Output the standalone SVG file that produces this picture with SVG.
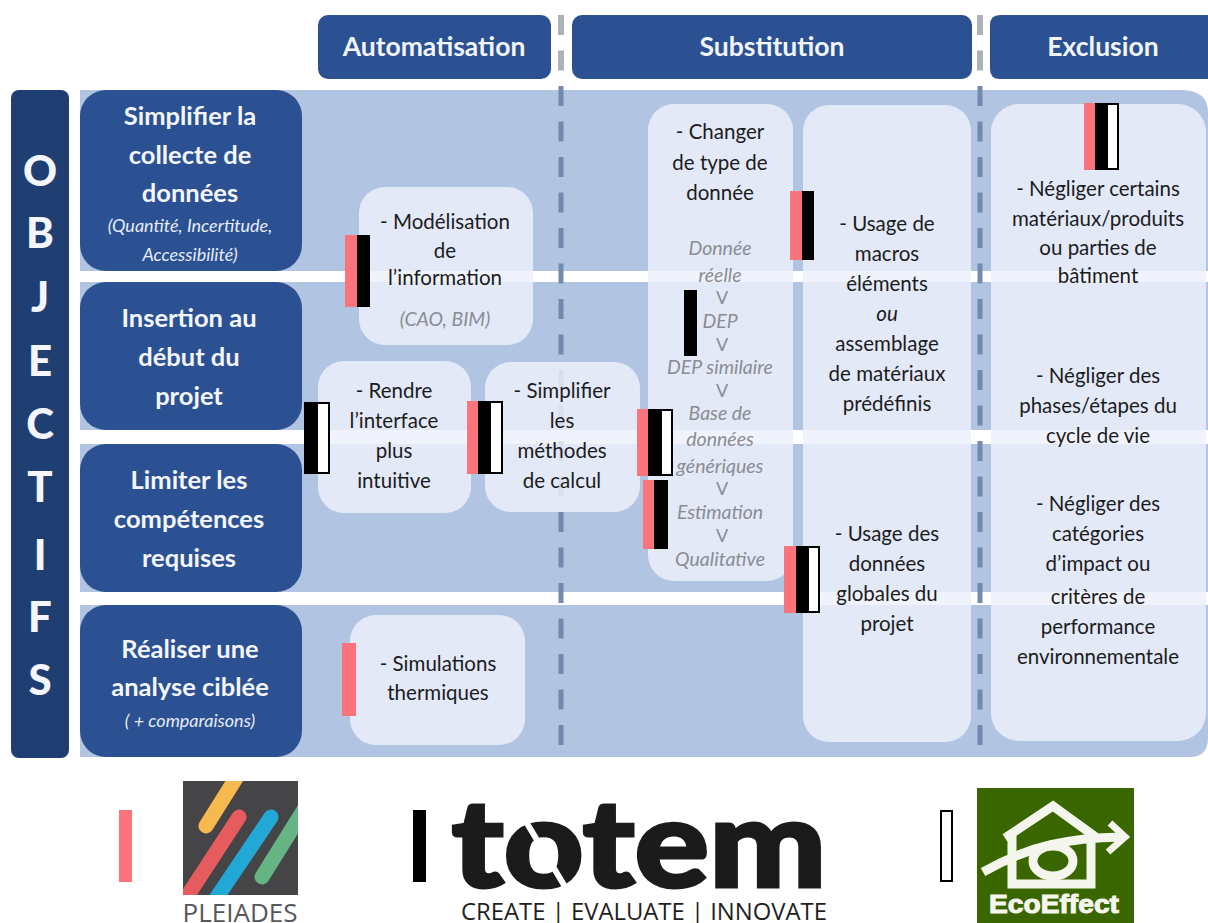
<svg xmlns="http://www.w3.org/2000/svg" width="1208" height="923" viewBox="0 0 1208 923">
<style>
text{font-family:Lato,"Open Sans","Liberation Sans",sans-serif;text-anchor:middle}
.hd{fill:#2b5192}
.hdt{font-size:26.5px;font-weight:700;fill:#f2f5fa}
.ob{font-size:25.5px;font-weight:700;fill:#f4f6fb}
.sub{font-size:18px;font-style:italic;fill:#e6ebf5}
.let{font-size:42px;font-weight:900;fill:#f4f6fb}
.bx{fill:#edf0fa;fill-opacity:.83}
.t{font-size:20.5px;fill:#1c1c1e}
.i{font-size:19.5px;font-style:italic;fill:#8b8c94}
.v{font-size:18px;fill:#8b8c94}
.r{fill:#fb747b}.k{fill:#000}.w{fill:#fff;stroke:#000;stroke-width:2}
.dh{stroke:#adb2b9;stroke-width:6;stroke-dasharray:20 15.5;fill:none}
.db{stroke:#7389ad;stroke-width:5;stroke-dasharray:20 15.5;fill:none}
</style>
<rect width="1208" height="923" fill="#fff"/>
<g id="bands" fill="#b1c5e3">
<path d="M80 90H1180Q1208 90 1208 112V271H80Z"/>
<rect x="80" y="282" width="1128" height="148"/>
<rect x="80" y="444" width="1128" height="148"/>
<path d="M80 605H1208V738Q1208 757 1190 757H80Z"/>
</g>
<g id="dividers">
<path class="dh" d="M561 15V71"/><path class="dh" d="M980 15V71"/>
<path class="db" d="M561 86V757"/><path class="db" d="M980 86V757"/>
</g>
<g id="col-automatisation"><rect class="hd" x="318" y="15" width="233" height="64" rx="10"/><text class="hdt" x="434" y="56">Automatisation</text></g>
<g id="col-substitution"><rect class="hd" x="572" y="15" width="400" height="64" rx="10"/><text class="hdt" x="772" y="56">Substitution</text></g>
<g id="col-exclusion"><path class="hd" d="M1208 15H1000Q990 15 990 25V69Q990 79 1000 79H1208Z"/><text class="hdt" x="1103" y="56">Exclusion</text></g>
<g id="objectifs"><rect x="11" y="90" width="58" height="668" rx="8" fill="#1f3f73"/>
<text class="let" x="40" y="186">O</text><text class="let" x="40" y="248">B</text><text class="let" x="40" y="312">J</text><text class="let" x="40" y="376">E</text><text class="let" x="40" y="439">C</text><text class="let" x="40" y="502">T</text><text class="let" x="40" y="570">I</text><text class="let" x="40" y="632">F</text><text class="let" x="40" y="695">S</text></g>
<g id="obj-simplifier"><rect class="hd" x="80" y="90" width="222" height="181" rx="26"/>
<text class="ob" x="190" y="125">Simplifier la</text><text class="ob" x="190" y="164">collecte de</text><text class="ob" x="190" y="202">données</text>
<text class="sub" x="190" y="232">(Quantité, Incertitude,</text><text class="sub" x="190" y="261">Accessibilité)</text></g>
<g id="obj-insertion"><rect class="hd" x="80" y="282" width="222" height="148" rx="26"/>
<text class="ob" x="189" y="327">Insertion au</text><text class="ob" x="189" y="366">début du</text><text class="ob" x="189" y="405">projet</text></g>
<g id="obj-limiter"><rect class="hd" x="80" y="444" width="222" height="148" rx="26"/>
<text class="ob" x="189" y="489">Limiter les</text><text class="ob" x="189" y="528">compétences</text><text class="ob" x="189" y="567">requises</text></g>
<g id="obj-realiser"><rect class="hd" x="80" y="605" width="222" height="152" rx="26"/>
<text class="ob" x="190" y="658">Réaliser une</text><text class="ob" x="190" y="696">analyse ciblée</text>
<text class="sub" x="190" y="727">( + comparaisons)</text></g>
<g id="box-modelisation"><rect class="bx" x="359" y="187" width="174" height="158" rx="26"/>
<text class="t" x="445" y="229">- Modélisation</text><text class="t" x="445" y="258">de</text><text class="t" x="445" y="285">l’information</text><text class="i" x="445" y="326">(CAO, BIM)</text></g>
<g id="box-interface"><rect class="bx" x="318" y="361" width="153" height="152" rx="26"/>
<text class="t" x="394" y="398">- Rendre</text><text class="t" x="394" y="428">l’interface</text><text class="t" x="394" y="458">plus</text><text class="t" x="394" y="488">intuitive</text></g>
<g id="box-methodes"><rect class="bx" x="485" y="362" width="155" height="150" rx="26"/>
<text class="t" x="562" y="398">- Simplifier</text><text class="t" x="562" y="428">les</text><text class="t" x="562" y="458">méthodes</text><text class="t" x="562" y="488">de calcul</text></g>
<g id="box-type"><rect class="bx" x="648" y="104" width="145" height="477" rx="26"/>
<text class="t" x="720" y="139">- Changer</text><text class="t" x="720" y="170">de type de</text><text class="t" x="720" y="200">donnée</text>
<text class="i" x="720" y="255">Donnée</text><text class="i" x="720" y="282">réelle</text><text class="v" x="722" y="304">V</text><text class="i" x="720" y="328">DEP</text><text class="v" x="722" y="351">V</text><text class="i" x="720" y="374">DEP similaire</text><text class="v" x="722" y="397">V</text><text class="i" x="720" y="420">Base de</text><text class="i" x="720" y="446">données</text><text class="i" x="720" y="473">génériques</text><text class="v" x="722" y="495">V</text><text class="i" x="720" y="519">Estimation</text><text class="v" x="722" y="542">V</text><text class="i" x="720" y="566">Qualitative</text></g>
<g id="box-macros"><rect class="bx" x="803" y="105" width="168" height="637" rx="26"/>
<text class="t" x="887" y="231">- Usage de</text><text class="t" x="887" y="261">macros</text><text class="t" x="887" y="291">éléments</text><text class="t" x="887" y="321" font-style="italic">ou</text><text class="t" x="887" y="351">assemblage</text><text class="t" x="887" y="381">de matériaux</text><text class="t" x="887" y="411">prédéfinis</text>
<text class="t" x="887" y="541">- Usage des</text><text class="t" x="887" y="571">données</text><text class="t" x="887" y="601">globales du</text><text class="t" x="887" y="631">projet</text></g>
<g id="box-exclusion"><rect class="bx" x="991" y="104" width="215" height="637" rx="28"/>
<text class="t" x="1098" y="196">- Négliger certains</text><text class="t" x="1098" y="226">matériaux/produits</text><text class="t" x="1098" y="255">ou parties de</text><text class="t" x="1098" y="283">bâtiment</text>
<text class="t" x="1098" y="383">- Négliger des</text><text class="t" x="1098" y="413">phases/étapes du</text><text class="t" x="1098" y="443">cycle de vie</text>
<text class="t" x="1098" y="511">- Négliger des</text><text class="t" x="1098" y="541">catégories</text><text class="t" x="1098" y="571">d’impact ou</text><text class="t" x="1098" y="604">critères de</text><text class="t" x="1098" y="634">performance</text><text class="t" x="1098" y="664">environnementale</text></g>
<g id="box-simulations"><rect class="bx" x="350" y="615" width="175" height="130" rx="26"/>
<text class="t" x="438" y="671">- Simulations</text><text class="t" x="438" y="700">thermiques</text></g>
<g id="markers">
<rect class="r" x="345" y="235" width="12" height="72"/><rect class="k" x="357" y="235" width="13" height="72"/>
<rect class="k" x="304" y="402" width="13" height="72"/><rect class="w" x="317" y="403" width="12" height="70"/>
<rect class="r" x="467" y="401" width="11" height="73"/><rect class="k" x="478" y="401" width="12" height="73"/><rect class="w" x="490" y="402" width="12" height="71"/>
<rect class="r" x="637" y="409" width="11" height="67"/><rect class="k" x="648" y="409" width="13" height="67"/><rect class="w" x="661" y="410" width="11" height="65"/>
<rect class="r" x="643" y="480" width="11" height="69"/><rect class="k" x="654" y="480" width="14" height="69"/>
<rect class="k" x="684" y="290" width="13" height="66"/>
<rect class="r" x="790" y="191" width="12" height="69"/><rect class="k" x="802" y="191" width="12" height="69"/>
<rect class="r" x="784" y="546" width="12" height="67"/><rect class="k" x="796" y="546" width="12" height="67"/><rect class="w" x="808" y="547" width="11" height="65"/>
<rect class="r" x="1084" y="103" width="11" height="67"/><rect class="k" x="1095" y="103" width="12" height="67"/><rect class="w" x="1107" y="104" width="11" height="65"/>
<rect class="r" x="342" y="643" width="14" height="73"/>
</g>
<g id="legend-pleiades"><rect class="r" x="119" y="810" width="13" height="72"/>
<rect x="183" y="781" width="115" height="114" fill="#454547"/>
<clipPath id="cp"><rect x="183" y="781" width="115" height="114"/></clipPath>
<g clip-path="url(#cp)" fill="none" stroke-linecap="round" stroke-width="15">
<path stroke="#f6b94f" d="M206 826L238 775"/><path stroke="#e65c5e" d="M239 817L175 915"/><path stroke="#22a8d6" d="M271 817L205 915"/><path stroke="#66b483" d="M262 877L310 800"/></g>
<text x="240" y="922" font-size="25" fill="#55575c" textLength="115" lengthAdjust="spacingAndGlyphs" style="font-family:'Open Sans',sans-serif">PLEIADES</text></g>
<g id="legend-totem"><rect class="k" x="413" y="810" width="13" height="72"/>
<text x="639" y="887" font-size="122" font-weight="900" fill="#1b1b1b" stroke="#1b1b1b" stroke-width="3" textLength="375" lengthAdjust="spacingAndGlyphs">totem</text>
<path d="M522 815L570 895" stroke="#fff" stroke-width="6" fill="none"/>
<text x="644" y="920" font-size="23.5" font-weight="500" fill="#1f1f1f" textLength="366" lengthAdjust="spacingAndGlyphs" style="font-family:'Open Sans',sans-serif">CREATE | EVALUATE | INNOVATE</text></g>
<g id="legend-ecoeffect"><rect class="w" x="941" y="811" width="11" height="70"/>
<rect x="977" y="788" width="157" height="135" fill="#3a6600"/>
<g fill="none" stroke="#f4f6ee" stroke-width="9"><path d="M1012 832V884H1091V835M1005 838L1053 806L1097 838"/><path d="M983 872C1030 845 1070 838 1122 837"/><path d="M1110 823L1125 837L1108 852" stroke-width="7"/><ellipse cx="1053" cy="861" rx="20" ry="15"/></g>
<text x="1054" y="913" font-size="25" font-weight="700" fill="#f4f6ee" stroke="#f4f6ee" stroke-width="1" textLength="130" lengthAdjust="spacingAndGlyphs" style="font-family:'Liberation Sans',sans-serif">EcoEffect</text></g>
</svg>
